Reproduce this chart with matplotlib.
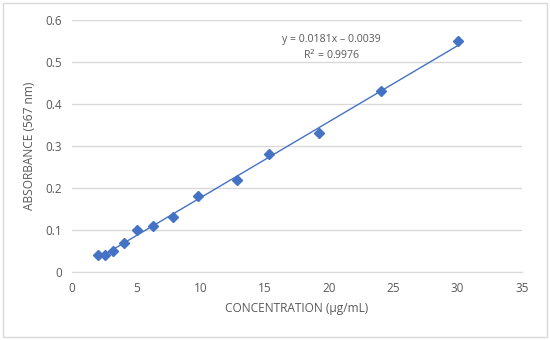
import numpy as np
import matplotlib.pyplot as plt
from matplotlib.patches import Rectangle

# calibration data
concentration = [2.05, 2.57, 3.22, 4.03, 5.03, 6.28, 7.85, 9.82, 12.8, 15.35, 19.2, 24.0, 30.0]
absorbance = [0.04, 0.04, 0.05, 0.07, 0.10, 0.11, 0.13, 0.18, 0.22, 0.28, 0.33, 0.43, 0.55]

# trendline as printed on the chart
slope = 0.0181
intercept = -0.0039
r2 = 0.9976

blue = "#4472C4"
grid = "#D9D9D9"
txt = "#595959"

plt.rcParams['font.family'] = ['Open Sans', 'DejaVu Sans']

fig = plt.figure(figsize=(5.5, 3.4), dpi=100)
fig.patches.append(Rectangle((0.006, 0.009), 0.988, 0.982, transform=fig.transFigure,
                             fill=False, edgecolor=grid, linewidth=1))
ax = fig.add_axes([0.131, 0.2, 0.818, 0.741])

x = np.array(concentration)
xs = np.array([x.min(), x.max()])
ax.plot(xs, slope * xs + intercept, color=blue, linewidth=1, zorder=2)
ax.plot(concentration, absorbance, linestyle="none", marker="D", markersize=5.5,
        color=blue, zorder=3)

ax.set_xlim(0, 35)
ax.set_ylim(0, 0.6)
ax.set_xticks(range(0, 36, 5))
ax.set_yticks(np.arange(0, 0.61, 0.1))
ax.set_yticklabels(["0", "0.1", "0.2", "0.3", "0.4", "0.5", "0.6"])
ax.grid(axis="y", color=grid, linewidth=1)
ax.set_axisbelow(True)
for s in ["top", "right", "left"]:
    ax.spines[s].set_visible(False)
ax.spines["bottom"].set_color(grid)
ax.tick_params(length=0, labelsize=8.5, labelcolor=txt, pad=7)

ax.set_xlabel("CONCENTRATION (µg/mL)", fontsize=8.6, color=txt, labelpad=5)
ax.set_ylabel("ABSORBANCE (567 nm)", fontsize=8.6, color=txt, labelpad=7)

ax.text(20.2, 0.553, "y = 0.0181x \u2013 0.0039", fontsize=7.6, color=txt,
        ha="center", va="center")
ax.text(20.2, 0.516, "R$^2$ = %.4f" % r2, fontsize=7.6, color=txt,
        ha="center", va="center")

fig.savefig("out.png", dpi=100)
